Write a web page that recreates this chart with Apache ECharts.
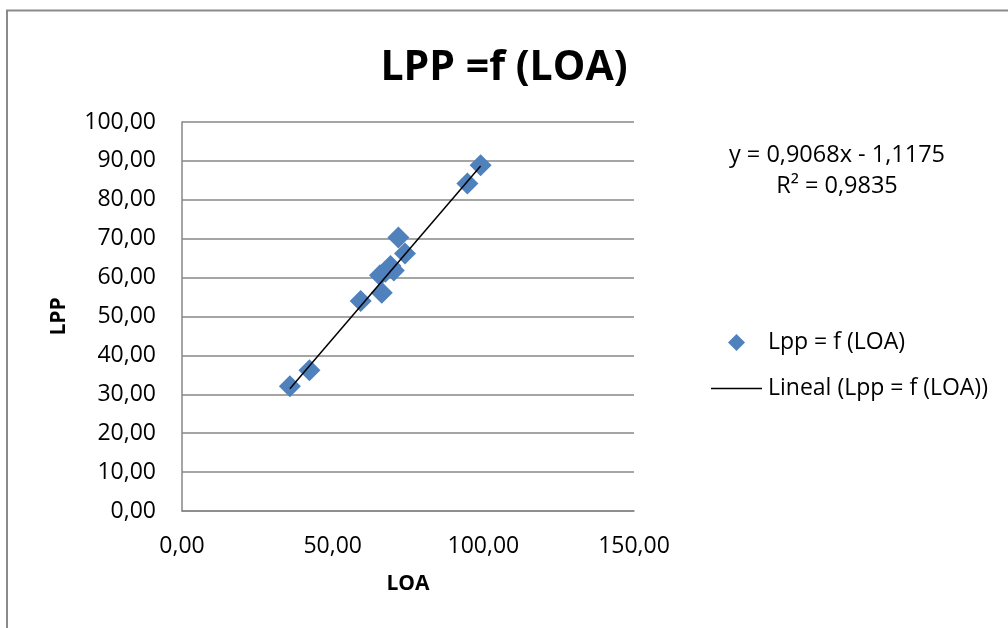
<!DOCTYPE html>
<html>
<head>
<meta charset="utf-8">
<script src="https://cdn.jsdelivr.net/npm/echarts@6/dist/echarts.min.js"></script>
<style>
html,body{margin:0;padding:0;background:#fff;}
#c{width:1008px;height:628px;}
</style>
</head>
<body>
<div id="c"></div>
<script>
// Data
const loa = [35.8, 42.3, 59.3, 66.3, 65.7, 67.5, 69.2, 70.3, 74.0, 71.8, 94.7, 99.1];
const lpp = [32.1, 36.2, 54.0, 56.1, 60.6, 61.5, 63.0, 61.8, 66.2, 70.3, 84.2, 88.9];
const trendX = [35.8, 99.1];
const trendY = [31.4, 88.7];
const seriesName = 'Lpp = f (LOA)';
const trendName = 'Lineal (Lpp = f (LOA))';
const titleText = 'LPP =f (LOA)';
const eqText = 'y = 0,9068x - 1,1175';
const r2Text = 'R² = 0,9835';
const xName = 'LOA';
const yName = 'LPP';

const pts = loa.map((x, i) => [x, lpp[i]]);
const trend = trendX.map((x, i) => [x, trendY[i]]);
const fmt = v => v.toFixed(2).replace('.', ',');
const F = '"Open Sans", "Noto Sans", sans-serif';

const chart = echarts.init(document.getElementById('c'), null, {renderer: 'canvas'});
chart.setOption({
  backgroundColor: '#fff',
  animation: false,
  title: {
    text: titleText, left: 'center', top: 43,
    textStyle: {fontFamily: F, fontSize: 41, fontWeight: 'bold', color: '#000'}
  },
  graphic: [
    {type: 'polyline', shape: {points: [[7, 628], [7, 10.5], [1008, 10.5]]},
     style: {stroke: '#8a8a8a', lineWidth: 2, fill: null}},
    {type: 'text', x: 837, y: 155, style: {text: eqText, fontFamily: F, fontSize: 23.5, fill: '#000', align: 'center', verticalAlign: 'middle'}},
    {type: 'text', x: 837, y: 186, style: {text: r2Text, fontFamily: F, fontSize: 23.5, fill: '#000', align: 'center', verticalAlign: 'middle'}}
  ],
  legend: [
    {data: [{name: seriesName, icon: 'diamond'}], left: 728, top: 331, padding: 0, itemWidth: 17, itemHeight: 17,
     textStyle: {fontFamily: F, fontSize: 23, color: '#000', padding: [0, 0, 0, 18]}},
    {data: [{name: trendName, icon: 'rect'}], left: 711, top: 377, padding: 0, itemWidth: 51, itemHeight: 1.5,
     itemStyle: {color: '#000'},
     textStyle: {fontFamily: F, fontSize: 23, color: '#000', padding: [0, 0, 0, 1]}}
  ],
  grid: {left: 182, right: 374, top: 122, bottom: 117},
  xAxis: {
    type: 'value', min: 0, max: 150, interval: 50,
    name: xName, nameLocation: 'middle', nameGap: 63,
    nameTextStyle: {fontFamily: F, fontSize: 21, fontWeight: 'bold', color: '#000'},
    axisLine: {show: true, lineStyle: {color: '#878787', width: 1.5}},
    axisTick: {show: false},
    splitLine: {show: false},
    axisLabel: {formatter: fmt, fontFamily: F, fontSize: 23, color: '#000', margin: 24}
  },
  yAxis: {
    type: 'value', min: 0, max: 100, interval: 10,
    name: yName, nameLocation: 'middle', nameGap: 112, nameRotate: 90,
    nameTextStyle: {fontFamily: F, fontSize: 21, fontWeight: 'bold', color: '#000'},
    axisLine: {show: true, lineStyle: {color: '#878787', width: 1.5}},
    axisTick: {show: false},
    splitLine: {show: true, lineStyle: {color: '#878787', width: 1.5}},
    axisLabel: {formatter: fmt, fontFamily: F, fontSize: 23, color: '#000', margin: 26}
  },
  series: [
    {name: seriesName, type: 'scatter', data: pts, symbol: 'diamond', symbolSize: 22,
     itemStyle: {color: '#4F81BD', opacity: 1}, z: 2},
    {name: trendName, type: 'line', data: trend, symbol: 'none',
     lineStyle: {color: '#000', width: 1.5}, itemStyle: {color: '#000'}, z: 3}
  ]
});
</script>
</body>
</html>
